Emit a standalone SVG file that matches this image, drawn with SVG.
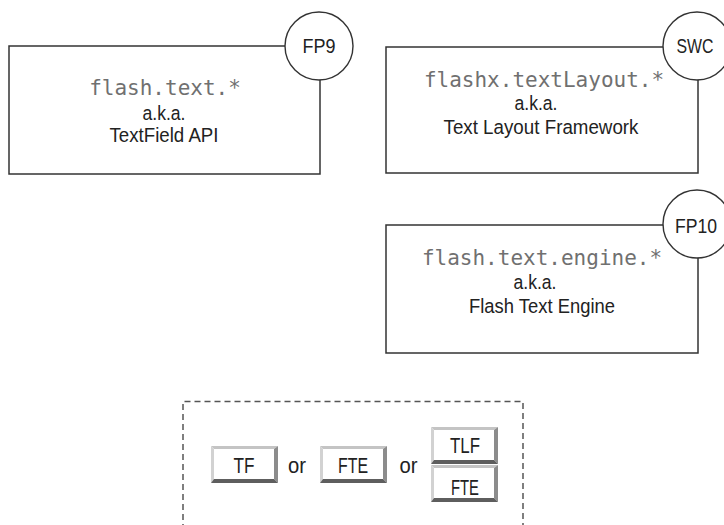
<svg xmlns="http://www.w3.org/2000/svg" width="724" height="525" viewBox="0 0 724 525">
  <style>
    .box { fill: #ffffff; stroke: #333333; stroke-width: 1.5; }
    .badge { fill: #ffffff; stroke: #333333; stroke-width: 1.4; }
    .mono { font-family: "DejaVu Sans Mono", "Liberation Mono", monospace; font-size: 21px; fill: #707070; text-anchor: middle; }
    .sans { font-family: "Liberation Sans", Arial, sans-serif; font-size: 20.5px; fill: #222222; text-anchor: middle; }
    .badge-text { font-family: "Liberation Sans", Arial, sans-serif; font-size: 21px; fill: #222222; text-anchor: middle; }
    .btn-text { font-family: "Liberation Sans", Arial, sans-serif; font-size: 22px; fill: #222222; text-anchor: middle; }
    .dash { fill: none; stroke: #555555; stroke-width: 1.5; stroke-dasharray: 6 4; }
    .face { fill: #ffffff; }
    .bt { fill: #c4c4c4; }
    .bl { fill: #d2d2d2; }
    .br { fill: #8c8c8c; }
    .bb { fill: #5e5e5e; }
  </style>
  <defs>
    <g id="btn">
      <rect class="face" x="0" y="0" width="67" height="37"/>
      <polygon class="bt" points="0,0 67,0 63,3 3,3"/>
      <polygon class="bl" points="0,0 3,3 3,33 0,37"/>
      <polygon class="br" points="67,0 67,37 63,33 63,3"/>
      <polygon class="bb" points="0,37 67,37 63,33 3,33"/>
    </g>
  </defs>
  <rect x="0" y="0" width="724" height="525" fill="#ffffff"/>

  <g id="connectors"></g>

  <g id="node-textfield">
    <rect class="box" x="9" y="46" width="311" height="128"/>
    <circle class="badge" cx="319" cy="46" r="34"/>
    <text class="badge-text" x="319" y="53" textLength="33" lengthAdjust="spacingAndGlyphs">FP9</text>
    <text class="mono" x="165" y="95">flash.text.*</text>
    <text class="sans" x="164" y="120" textLength="43" lengthAdjust="spacingAndGlyphs">a.k.a.</text>
    <text class="sans" x="164" y="142" textLength="109" lengthAdjust="spacingAndGlyphs">TextField API</text>
  </g>

  <g id="node-tlf">
    <rect class="box" x="386" y="47" width="312" height="126"/>
    <circle class="badge" cx="697" cy="46" r="34"/>
    <text class="badge-text" x="695" y="53" textLength="37" lengthAdjust="spacingAndGlyphs">SWC</text>
    <text class="mono" x="544" y="87">flashx.textLayout.*</text>
    <text class="sans" x="536" y="110" textLength="43" lengthAdjust="spacingAndGlyphs">a.k.a.</text>
    <text class="sans" x="541" y="134" textLength="195" lengthAdjust="spacingAndGlyphs">Text Layout Framework</text>
  </g>

  <g id="node-fte">
    <rect class="box" x="386" y="225" width="312" height="128"/>
    <circle class="badge" cx="697" cy="224" r="34"/>
    <text class="badge-text" x="696" y="233" textLength="42" lengthAdjust="spacingAndGlyphs">FP10</text>
    <text class="mono" x="542" y="265">flash.text.engine.*</text>
    <text class="sans" x="535" y="289" textLength="43" lengthAdjust="spacingAndGlyphs">a.k.a.</text>
    <text class="sans" x="542" y="313" textLength="146" lengthAdjust="spacingAndGlyphs">Flash Text Engine</text>
  </g>

  <g id="legend">
    <path class="dash" d="M183,530 V401.5 H523 V530"/>
    <g id="btn-tf">
      <use href="#btn" x="211" y="446"/>
      <text class="btn-text" x="244" y="473" textLength="21" lengthAdjust="spacingAndGlyphs">TF</text>
    </g>
    <text class="btn-text" x="297" y="473" textLength="18" lengthAdjust="spacingAndGlyphs">or</text>
    <g id="btn-fte">
      <use href="#btn" x="320" y="446"/>
      <text class="btn-text" x="353" y="473" textLength="30" lengthAdjust="spacingAndGlyphs">FTE</text>
    </g>
    <text class="btn-text" x="408.5" y="473" textLength="18" lengthAdjust="spacingAndGlyphs">or</text>
    <g id="btn-tlf">
      <use href="#btn" x="431" y="427"/>
      <text class="btn-text" x="465" y="453" textLength="30" lengthAdjust="spacingAndGlyphs">TLF</text>
    </g>
    <g id="btn-fte2">
      <use href="#btn" x="431" y="465"/>
      <text class="btn-text" x="465" y="495" textLength="28" lengthAdjust="spacingAndGlyphs">FTE</text>
    </g>
  </g>
</svg>
